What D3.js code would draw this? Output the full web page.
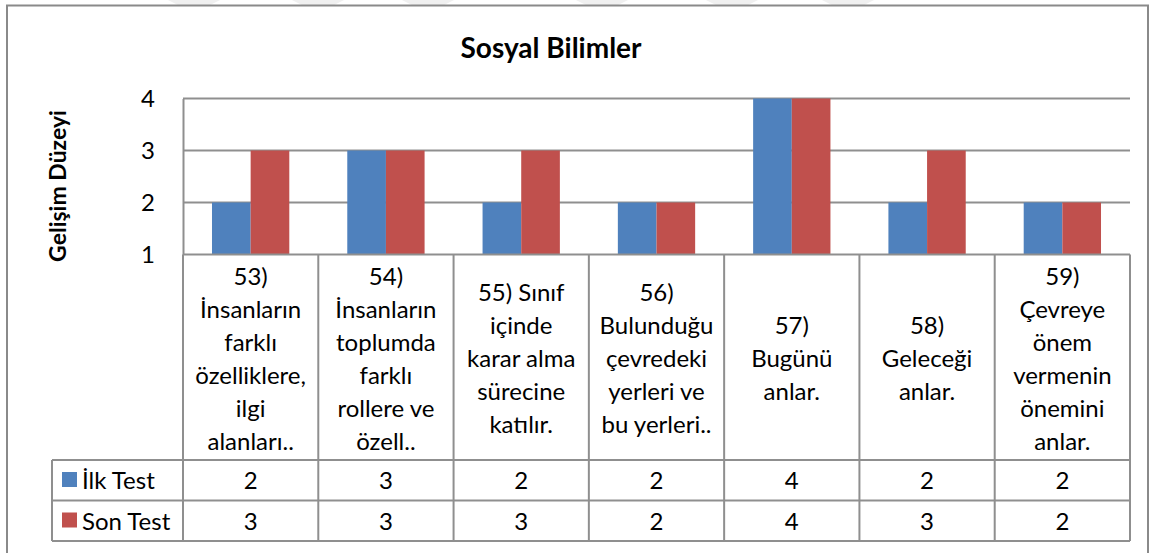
<!DOCTYPE html>
<html>
<head>
<meta charset="utf-8">
<script src="https://cdn.jsdelivr.net/npm/d3@7"></script>
<style>
  html, body { margin: 0; padding: 0; background: #fff; }
  svg { display: block; font-family: Lato, "Open Sans", sans-serif; }
</style>
</head>
<body>
<svg id="chart" width="1152" height="553"></svg>
<script>
// Chart data
const chartTitle = "Sosyal Bilimler";
const yTitle = "Gelişim Düzeyi";
const categories = [
  "53)\nİnsanların\nfarklı\nözelliklere,\nilgi\nalanları..",
  "54)\nİnsanların\ntoplumda\nfarklı\nrollere ve\nözell..",
  "55) Sınıf\niçinde\nkarar alma\nsürecine\nkatılır.",
  "56)\nBulunduğu\nçevredeki\nyerleri ve\nbu yerleri..",
  "57)\nBugünü\nanlar.",
  "58)\nGeleceği\nanlar.",
  "59)\nÇevreye\nönem\nvermenin\nönemini\nanlar."
];
const seriesNames = ["İlk Test", "Son Test"];
const ilkTest = [2, 3, 2, 2, 4, 2, 2];
const sonTest = [3, 3, 3, 2, 4, 3, 2];
const yTicks = [1, 2, 3, 4];
const colors = ["#4F81BD", "#C0504D"];

const seriesValues = [ilkTest, sonTest];

const svg = d3.select("#chart");
const gridColor = "#8f8f8f";
const fs = 24;

// Faint page marks above the frame
const marks = [168, 292, 402, 576, 706, 822];
svg.append("g").selectAll("path").data(marks).join("path")
  .attr("d", d => `M${d},0 L${d + 52},0 L${d + 40},6 L${d + 12},6 Z`)
  .attr("fill", "#f0f0f0");

// Outer chart frame
svg.append("rect")
  .attr("x", 7).attr("y", 5.5).attr("width", 1141).attr("height", 560)
  .attr("fill", "#fff").attr("stroke", "#8a8a8a").attr("stroke-width", 2);

// Title
svg.append("text")
  .attr("x", 551).attr("y", 58)
  .attr("text-anchor", "middle")
  .attr("font-size", 28).attr("font-weight", "bold")
  .attr("fill", "#000")
  .text(chartTitle);

// Scales
const x0 = d3.scaleBand().domain(d3.range(categories.length)).range([183, 1130]).padding(0);
const x1 = d3.scaleBand().domain(seriesNames).range([0, x0.bandwidth()]).paddingInner(0).paddingOuter(0.75);
const y = d3.scaleLinear().domain([1, 4]).range([254.5, 98.5]);

// Gridlines
svg.append("g").selectAll("line").data(yTicks.filter(t => t > 1)).join("line")
  .attr("x1", 183).attr("x2", 1130)
  .attr("y1", d => y(d)).attr("y2", d => y(d))
  .attr("stroke", gridColor).attr("stroke-width", 2);

// Value axis
const yAxis = svg.append("g").attr("transform", "translate(183,0)")
  .call(d3.axisLeft(y).tickValues(yTicks).tickSize(0).tickPadding(28).tickFormat(d3.format("d")));
yAxis.select(".domain").attr("stroke", gridColor).attr("stroke-width", 2);
yAxis.selectAll("text").attr("font-size", fs).attr("fill", "#000")
  .attr("font-family", "Lato, 'Open Sans', sans-serif");

// Axis title
svg.append("text")
  .attr("transform", "translate(66,186) rotate(-90)")
  .attr("text-anchor", "middle")
  .attr("font-size", 23).attr("font-weight", "bold").attr("fill", "#000")
  .text(yTitle);

// Bars
const groups = svg.append("g").selectAll("g").data(categories.map((c, i) => i)).join("g")
  .attr("transform", i => `translate(${x0(i)},0)`);
groups.selectAll("rect")
  .data(i => seriesNames.map((s, k) => ({ s, k, v: seriesValues[k][i] })))
  .join("rect")
  .attr("x", d => x1(d.s))
  .attr("width", x1.bandwidth())
  .attr("y", d => y(d.v))
  .attr("height", d => y(1) - y(d.v))
  .attr("fill", d => colors[d.k]);

// Data table
const rowTop = 254.5, rowCat = 460, rowA = 500.5, rowB = 541;
const tableLeft = 52, tableRight = 1130;
const tg = svg.append("g");

// Horizontal table lines
[[183, rowTop], [tableLeft, rowCat], [tableLeft, rowA], [tableLeft, rowB]].forEach(([xs, yy]) => {
  tg.append("line").attr("x1", xs).attr("x2", tableRight).attr("y1", yy).attr("y2", yy)
    .attr("stroke", gridColor).attr("stroke-width", 2);
});
// Vertical table lines
tg.append("line").attr("x1", tableLeft).attr("x2", tableLeft).attr("y1", rowCat).attr("y2", rowB)
  .attr("stroke", gridColor).attr("stroke-width", 2);
d3.range(categories.length + 1).forEach(i => {
  const xx = i < categories.length ? x0(i) : x0.range()[1];
  tg.append("line").attr("x1", xx).attr("x2", xx).attr("y1", rowTop).attr("y2", rowB)
    .attr("stroke", gridColor).attr("stroke-width", 2);
});

// Category labels
const lineH = 33;
categories.forEach((c, i) => {
  const lines = c.split("\n");
  const cx = x0(i) + x0.bandwidth() / 2;
  const t = tg.append("text").attr("text-anchor", "middle").attr("font-size", fs).attr("fill", "#000");
  lines.forEach((ln, j) => {
    t.append("tspan").attr("x", cx)
      .attr("y", 367 + (j - (lines.length - 1) / 2) * lineH)
      .text(ln);
  });
});

// Legend keys and values
const rowsY = [rowCat, rowA];
seriesNames.forEach((s, k) => {
  const top = rowsY[k];
  tg.append("rect").attr("x", 62).attr("y", top + 12).attr("width", 15).attr("height", 15)
    .attr("fill", colors[k]);
  tg.append("text").attr("x", 82).attr("y", top + 29).attr("font-size", fs).attr("fill", "#000").text(s);
  seriesValues[k].forEach((v, i) => {
    tg.append("text").attr("x", x0(i) + x0.bandwidth() / 2).attr("y", top + 29)
      .attr("text-anchor", "middle").attr("font-size", fs).attr("fill", "#000").text(v);
  });
});
</script>
</body>
</html>
